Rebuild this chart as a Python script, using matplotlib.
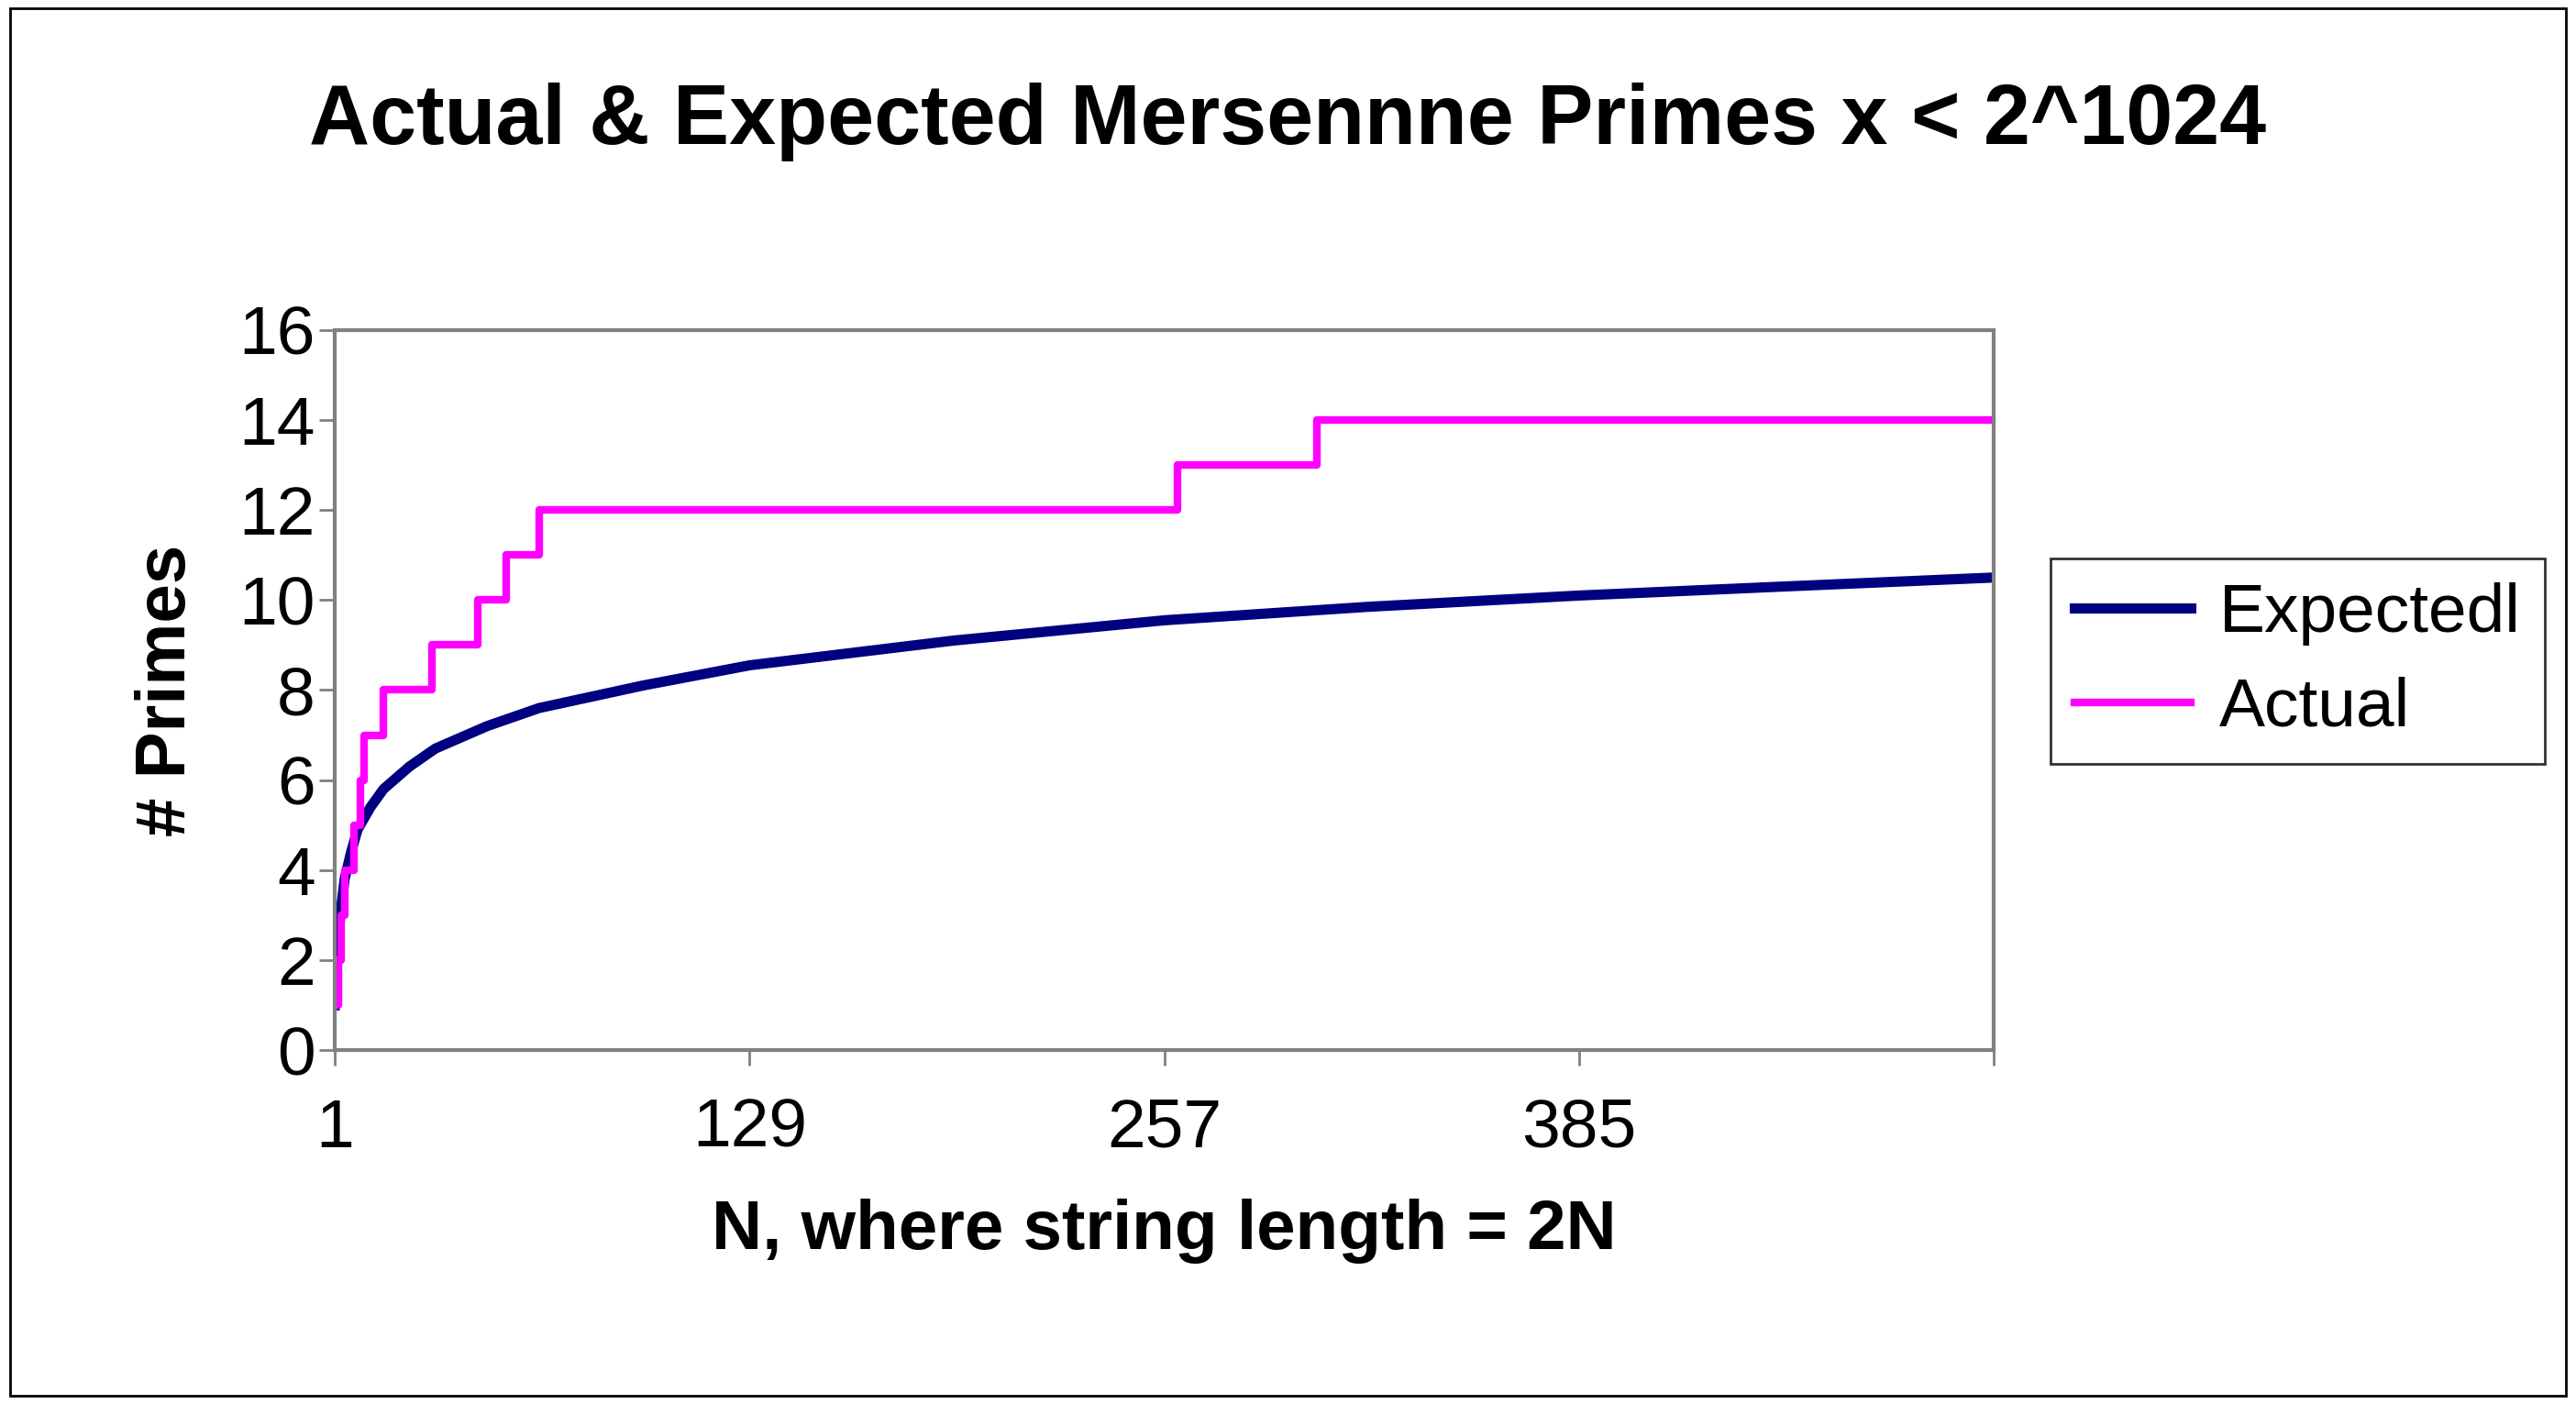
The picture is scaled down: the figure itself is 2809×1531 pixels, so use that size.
import numpy as np
import matplotlib
matplotlib.use("Agg")
from matplotlib import pyplot as plt

# actual count of Mersenne primes: N where a new one appears, and the running count
actual_n = [1, 2, 3, 4, 7, 9, 10, 16, 31, 45, 54, 64, 261, 304, 513]
actual_count = [1, 2, 3, 4, 5, 6, 7, 8, 9, 10, 11, 12, 13, 14, 14]

# expected curve
expected_n = [1, 2, 3, 4, 6, 8, 12, 16, 24, 32, 48, 64, 96, 129, 192, 257, 320, 385, 448, 513]
expected_v = [1.0, 2.5, 3.2, 3.8, 4.4, 4.9, 5.4, 5.8, 6.3, 6.7, 7.2, 7.6, 8.1, 8.55, 9.1, 9.55,
              9.85, 10.1, 10.3, 10.5]

xticks = [1, 129, 257, 385, 513]
xticklabels = ["1", "129", "257", "385", ""]

plt.rcParams['font.family'] = ['Liberation Sans', 'DejaVu Sans']

fig = plt.figure(figsize=(28.09, 15.31), dpi=100)
fig.patches.append(plt.Rectangle((0.004, 0.006), 0.992, 0.988, transform=fig.transFigure,
                                 fill=False, edgecolor='black', linewidth=2))
ax = fig.add_axes([0.130, 0.252, 0.644, 0.513])

ax.plot(expected_n, expected_v, color='#000080', linewidth=8, label='Expectedl')
ax.step(actual_n, actual_count, where='post', color='#ff00ff', linewidth=6, label='Actual')

ax.set_xlim(1, 513)
ax.set_ylim(0, 16)
ax.set_yticks(range(0, 17, 2))
ax.set_xticks(xticks)
ax.set_xticklabels(xticklabels)
ax.tick_params(axis='both', labelsize=54, length=12, width=2, color='#808080')
ax.tick_params(axis='x', pad=25)
for s in ax.spines.values():
    s.set_color('#808080')
    s.set_linewidth(3)

fig.text(0.5, 0.913, "Actual & Expected Mersennne Primes x < 2^1024", ha='center', va='center',
         fontsize=66, fontweight='bold')
ax.set_xlabel("N, where string length = 2N", fontsize=55, fontweight='bold', labelpad=30)
ax.set_ylabel("# Primes", fontsize=55, fontweight='bold', labelpad=30)

leg = ax.legend(loc='center left', bbox_to_anchor=(1.034, 0.54), fontsize=54,
                frameon=True, fancybox=False, edgecolor='black', handlelength=1.7,
                borderpad=0.35, labelspacing=0.45, borderaxespad=0, handletextpad=0.4)
leg.get_frame().set_linewidth(2)

fig.savefig("out.png", dpi=100)
